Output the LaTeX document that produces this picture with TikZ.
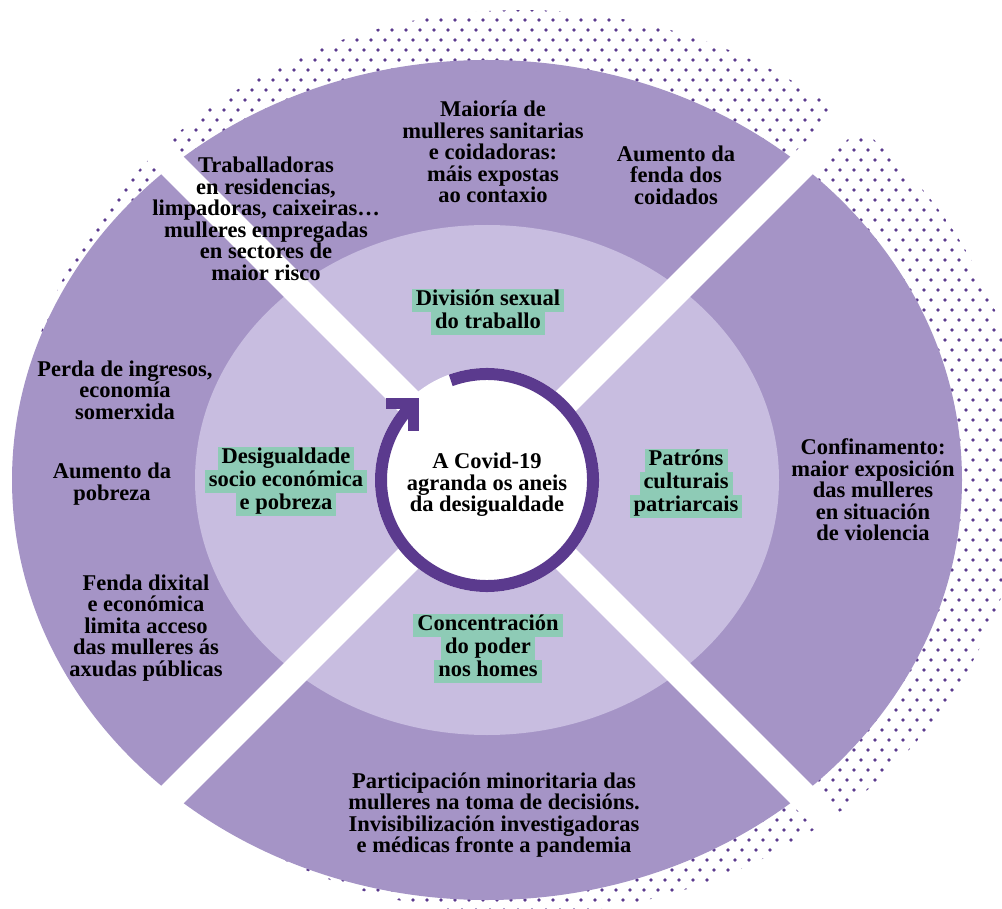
\documentclass[tikz,border=0pt]{standalone}
\usepackage{fontspec}
\setmainfont{Liberation Serif}
\usepackage{tikz}

\definecolor{ringout}{HTML}{A594C6}
\definecolor{ringin}{HTML}{C8BDE0}
\definecolor{tagbg}{HTML}{8ECBB6}
\definecolor{deepviolet}{HTML}{5B3A8E}

\newcommand{\ringfont}{\fontsize{22.5}{21.5}\selectfont\bfseries}
\newcommand{\tagfont}{\ringfont\setlength{\lineskip}{0pt}}
\newcommand{\tagline}[1]{{\setlength{\fboxsep}{1pt}\colorbox{tagbg}{\hspace{3pt}\rule[-5pt]{0pt}{21pt}#1\hspace{3pt}}}}

\tikzset{
  txt/.style={align=center, inner sep=0pt, font=\ringfont},
  tag/.style={align=center, inner sep=0pt, font=\tagfont},
  cut/.style={white, line width=28},
  loop/.style={deepviolet, line width=12},
}

\begin{document}
\begin{tikzpicture}[x=1pt, y=-1pt]
    \useasboundingbox (0,0) rectangle (1002,909);

    % Dotted halo
    \begin{scope}
        \clip (522,462) ellipse [x radius=502, y radius=452];
        \foreach \y [count=\r] in {0,10,...,910} {
            \foreach \x in {0,14,...,1008} {
                \fill[deepviolet] ({\x+7*mod(\r,2)},\y) circle (1.8);
            }
        }
    \end{scope}

    % Rings
    \fill[ringout] (487,480) ellipse [x radius=475, y radius=420];
    \fill[ringin] (487,480) ellipse [x radius=292, y radius=255];

    % Cross
    \coordinate (nw) at (87,80);
    \coordinate (se) at (887,880);
    \coordinate (sw) at (87,880);
    \coordinate (ne) at (887,80);
    \draw[cut] (nw) -- (se);
    \draw[cut] (sw) -- (ne);

    % Centre
    \node (core) at (487,480) [circle, fill=white, minimum size=224, inner sep=0pt] {};
    \draw[loop] (core.center) ++(-110:106) arc[start angle=-110, end angle=226, radius=106] coordinate (tip);
    \draw[loop, line width=11, line join=miter] (tip) ++(-27,0) -- (tip) -- ++(0,27);
    \node (covid) at (487,485) [txt] {A Covid-19\\agranda os aneis\\da desigualdade};

    % Outer ring
    \node (sanit) at (493,152) [txt] {Maioría de\\mulleres sanitarias\\e coidadoras:\\máis expostas\\ao contaxio};
    \node (coid) at (676,175) [txt] {Aumento da\\fenda dos\\coidados};
    \node (risco) at (266,219) [txt] {Traballadoras\\en residencias,\\limpadoras, caixeiras…\\mulleres empregadas\\en sectores de\\maior risco};
    \node (ingr) at (125,390) [txt] {Perda de ingresos,\\economía\\somerxida};
    \node (pobr) at (112,484) [txt] {Aumento da\\pobreza};
    \node (dixi) at (146,628) [txt] {Fenda dixital\\e económica\\limita acceso\\das mulleres ás\\axudas públicas};
    \node (conf) at (873,490) [txt] {Confinamento:\\maior exposición\\das mulleres\\en situación\\de violencia};
    \node (part) at (494,815) [txt] {Participación minoritaria das\\mulleres na toma de decisións.\\Invisibilización investigadoras\\e médicas fronte a pandemia};

    % Inner ring
    \node (divi) at (488,312) [tag] {\tagline{División sexual}\\\tagline{do traballo}};
    \node (desig) at (286,481) [tag] {\tagline{Desigualdade}\\\tagline{socio económica}\\\tagline{e pobreza}};
    \node (patr) at (686,483) [tag] {\tagline{Patróns}\\\tagline{culturais}\\\tagline{patriarcais}};
    \node (poder) at (488,648) [tag] {\tagline{Concentración}\\\tagline{do poder}\\\tagline{nos homes}};
\end{tikzpicture}
\end{document}
